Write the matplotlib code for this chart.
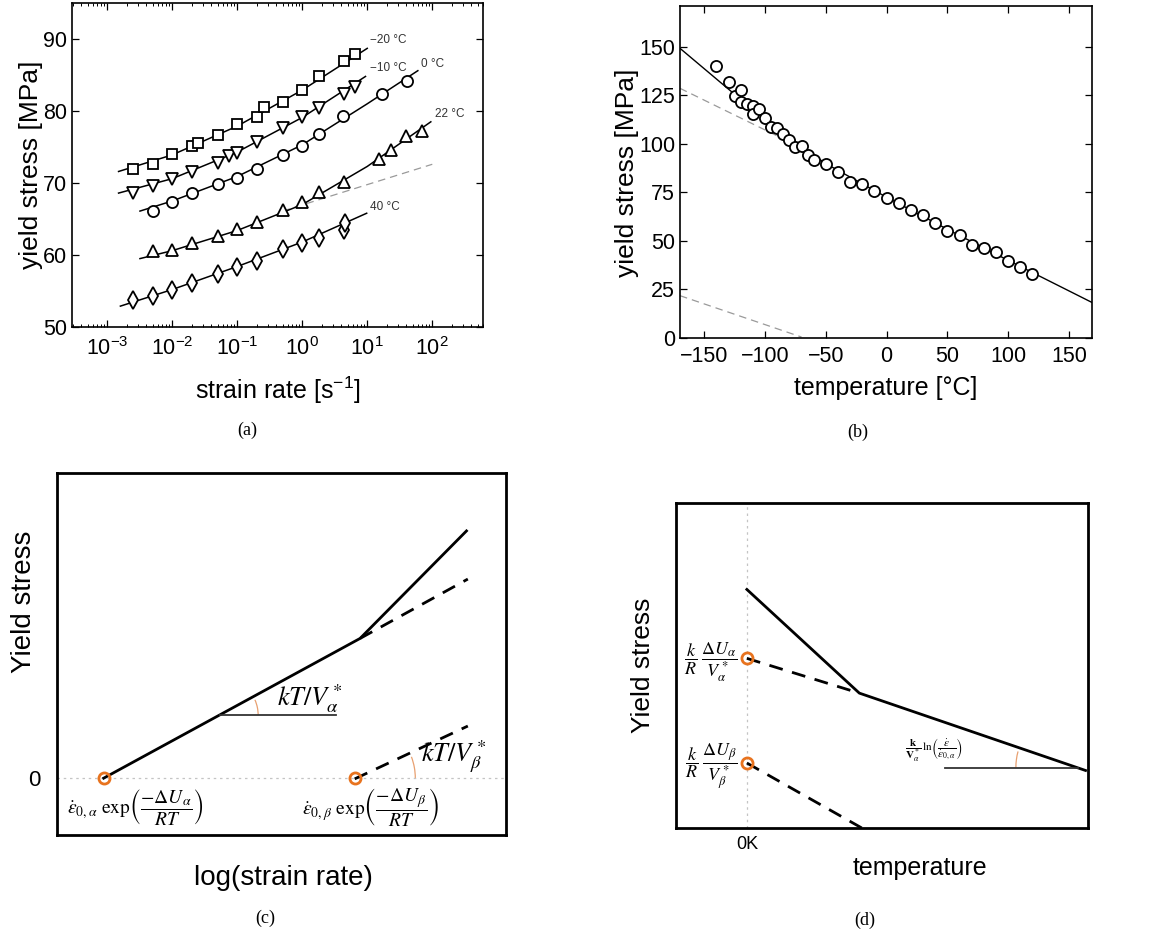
import numpy as np
import matplotlib
matplotlib.use("Agg")
import matplotlib.pyplot as plt
from matplotlib.patches import Arc
from matplotlib.ticker import FixedLocator, NullFormatter, FuncFormatter

plt.rcParams['font.family'] = ['Liberation Sans', 'DejaVu Sans']

# ---------- panel (a): yield stress vs strain rate, five temperatures ----------
rate_m20 = [2.5e-3, 5e-3, 1e-2, 2e-2, 2.5e-2, 5e-2, 0.1, 0.2, 0.26, 0.5, 1.0, 1.8, 4.4, 6.4]
ys_m20 = [71.9, 72.6, 74.0, 75.1, 75.5, 76.7, 78.2, 79.1, 80.5, 81.3, 82.9, 84.9, 87.0, 87.9]
fit_m20_x = [1.5e-3, 1e-2, 0.1, 1.0, 10.0]
fit_m20_y = [71.6, 73.9, 77.9, 82.9, 88.7]

rate_m10 = [2.5e-3, 5e-3, 1e-2, 2e-2, 5e-2, 0.075, 0.1, 0.2, 0.5, 1.0, 1.8, 4.4, 6.4]
ys_m10 = [68.6, 69.6, 70.5, 71.5, 72.8, 73.8, 74.2, 75.7, 77.7, 79.1, 80.4, 82.3, 83.3]
fit_m10_x = [1.5e-3, 1e-2, 0.1, 1.0, 9.4]
fit_m10_y = [68.6, 70.6, 74.3, 79.1, 84.8]

rate_0 = [5e-3, 1e-2, 2e-2, 5e-2, 0.1, 0.2, 0.5, 1.0, 1.8, 4.3, 17, 41]
ys_0 = [66.1, 67.4, 68.6, 69.8, 70.7, 72.0, 73.9, 75.2, 76.8, 79.3, 82.3, 84.2]
fit_0_x = [3.2e-3, 1e-2, 0.1, 1.0, 10.0, 60.0]
fit_0_y = [66.1, 67.5, 70.9, 75.3, 81.0, 85.6]

rate_22 = [5e-3, 1e-2, 2e-2, 5e-2, 0.1, 0.2, 0.5, 1.0, 1.8, 4.4, 15, 23.5, 40, 70]
ys_22 = [60.5, 60.7, 61.6, 62.7, 63.6, 64.6, 66.2, 67.3, 68.7, 70.2, 73.4, 74.6, 76.5, 77.2]
fit_22_x = [3.2e-3, 1e-2, 0.1, 1.0, 10.0, 95.0]
fit_22_y = [59.5, 60.6, 63.4, 67.0, 72.3, 78.5]
asym_22_x = [0.5, 100.0]
asym_22_y = [66.1, 72.6]

rate_40 = [2.5e-3, 5e-3, 1e-2, 2e-2, 5e-2, 0.1, 0.2, 0.5, 1.0, 1.8, 4.4, 4.5]
ys_40 = [53.8, 54.3, 55.2, 56.1, 57.3, 58.4, 59.2, 60.8, 61.7, 62.4, 63.5, 64.4]
fit_40_x = [1.6e-3, 1e-2, 0.1, 1.0, 9.8]
fit_40_y = [52.9, 55.2, 58.4, 61.8, 65.8]

temp_labels = ['\u221220 \u00b0C', '\u221210 \u00b0C', '0 \u00b0C', '22 \u00b0C', '40 \u00b0C']
decades_a = [-3, -2, -1, 0, 1, 2]

# ---------- panel (b): yield stress vs temperature ----------
temp_b = [-140, -130, -125, -120, -120, -115, -110, -110, -105, -100, -95, -90, -85,
          -80, -75, -70, -65, -60, -50, -40, -30, -20, -10, 0, 10, 20, 30, 40, 50,
          60, 70, 80, 90, 100, 110, 120]
ys_b = [140.2, 132.0, 124.8, 127.7, 121.7, 120.5, 119.5, 115.2, 117.8, 113.1, 108.7,
        108.3, 105.1, 102.0, 98.6, 98.9, 94.1, 91.7, 89.5, 85.4, 80.6, 79.2, 75.6,
        72.3, 69.3, 65.7, 63.4, 59.1, 55.2, 53.1, 48.0, 46.6, 44.2, 39.9, 36.5, 33.1]
fit_b_x = [-170, -125, -100, -75, -50, 0, 50, 100, 169]
fit_b_y = [149.2, 125.5, 113.0, 100.5, 89.8, 72.5, 56.0, 40.0, 18.3]
alpha_b_x = [-170, -75]
alpha_b_y = [128.6, 99.5]
beta_b_x = [-170, -70]
beta_b_y = [21.8, 0.5]

# ---------- panel (c): schematic, axes-fraction units ----------
c_zero = 0.157
c_solid_x = [0.104, 0.675, 0.912]
c_solid_y = [0.157, 0.543, 0.840]
c_adash_x = [0.675, 0.915]
c_adash_y = [0.543, 0.707]
c_beta_x = [0.663, 0.915]
c_beta_y = [0.155, 0.301]
c_ref_x = [0.363, 0.621]
c_ref_y = [0.331, 0.331]
c_pts_x = [0.104, 0.663]

# ---------- panel (d): schematic, axes-fraction units ----------
d_zero = 0.172
d_solid_x = [0.172, 0.445, 0.994]
d_solid_y = [0.734, 0.415, 0.177]
d_adash_x = [0.172, 0.445]
d_adash_y = [0.522, 0.415]
d_bdash_x = [0.172, 0.451]
d_bdash_y = [0.200, 0.0]
d_ref_x = [0.653, 0.975]
d_ref_y = [0.186, 0.186]
d_pts_y = [0.522, 0.200]

W, H = 1150, 932
fig = plt.figure(figsize=(W / 100, H / 100), dpi=100)


def add_axes(l, r, t, b):
    return fig.add_axes([l / W, 1 - b / H, (r - l) / W, (b - t) / H])


def ftext(x, y, s, **kw):
    fig.text(x / W, 1 - y / H, s, ha='center', va='center', **kw)


orange = '#E8731E'

# panel (a)
axa = add_axes(72, 483, 3, 327)
groups = [
    (rate_m20, ys_m20, fit_m20_x, fit_m20_y, 's', 7),
    (rate_m10, ys_m10, fit_m10_x, fit_m10_y, 'v', 8),
    (rate_0, ys_0, fit_0_x, fit_0_y, 'o', 8),
    (rate_22, ys_22, fit_22_x, fit_22_y, '^', 8),
    (rate_40, ys_40, fit_40_x, fit_40_y, 'd', 9),
]
axa.plot(asym_22_x, asym_22_y, color='#9a9a9a', lw=0.9, dashes=(6, 4))
for rx, ry, fx, fy, mk, ms in groups:
    axa.plot(fx, fy, color='k', lw=1.1)
    axa.plot(rx, ry, mk, ms=ms, mfc='white', mec='k', mew=1.3, ls='none')
lab_pos = [(11, 89.9), (11, 86.0), (68, 86.5), (110, 79.6), (11, 66.7)]
for (lx, ly), t in zip(lab_pos, temp_labels):
    axa.text(lx, ly, t, fontsize=8.5, color='#333333', ha='left', va='center')
axa.set_xscale('log')
xlo, xhi = 10 ** -3.54, 10 ** 2.78
axa.set_xlim(xlo, xhi)
axa.set_ylim(50, 95)
axa.set_yticks([50, 60, 70, 80, 90])
minors = [m * 10.0 ** d for d in range(-4, 3) for m in range(2, 10)]
axa.xaxis.set_major_locator(FixedLocator([10.0 ** d for d in decades_a]))
axa.xaxis.set_minor_locator(FixedLocator([v for v in minors if xlo < v < xhi]))
axa.xaxis.set_minor_formatter(NullFormatter())
axa.xaxis.set_major_formatter(FuncFormatter(lambda v, p: r'$\mathregular{10^{%d}}$' % round(np.log10(v))))

# panel (b)
axb = add_axes(680, 1092, 6, 338)
axb.plot(fit_b_x, fit_b_y, color='k', lw=1.0)
axb.plot(alpha_b_x, alpha_b_y, color='#9a9a9a', lw=0.9, dashes=(6, 4))
axb.plot(beta_b_x, beta_b_y, color='#9a9a9a', lw=0.9, dashes=(6, 4))
axb.plot(temp_b, ys_b, 'o', ms=8, mfc='white', mec='k', mew=1.3, ls='none')
axb.set_xlim(-170, 169)
axb.set_ylim(0, 171)
axb.set_xticks([-150, -100, -50, 0, 50, 100, 150])
axb.set_yticks([0, 25, 50, 75, 100, 125, 150])
axb.xaxis.set_major_formatter(FuncFormatter(lambda v, p: ('%d' % v).replace('-', '\u2212')))

for ax in (axa, axb):
    ax.tick_params(which='both', direction='in', top=True, right=True, labelsize=15.5)
    ax.tick_params(which='major', length=5, width=0.9)
    ax.tick_params(which='minor', length=2.5, width=0.7)
    for s in ax.spines.values():
        s.set_linewidth(1.2)
axa.tick_params(axis='x', pad=7)
axb.tick_params(axis='x', pad=6)

# panel (c)
axc = add_axes(57, 506, 473, 835)
axc.set_xlim(0, 1)
axc.set_ylim(0, 1)
axc.axhline(c_zero, color='#c4c4c4', lw=0.9, ls=(0, (2, 3)))
axc.plot(c_solid_x, c_solid_y, color='k', lw=2)
axc.plot(c_adash_x, c_adash_y, color='k', lw=2, dashes=(5, 3.5))
axc.plot(c_beta_x, c_beta_y, color='k', lw=2, dashes=(5, 3.5))
axc.plot(c_ref_x, c_ref_y, color='#333333', lw=1.3)
axc.plot(c_pts_x, [c_zero] * len(c_pts_x), 'o', ms=8, mfc='none', mec=orange, mew=2)
cw, ch = 506 - 57, 835 - 473
ang_a = np.degrees(np.arctan2((c_solid_y[1] - c_solid_y[0]) * ch, (c_solid_x[1] - c_solid_x[0]) * cw))
ang_b = np.degrees(np.arctan2((c_beta_y[1] - c_beta_y[0]) * ch, (c_beta_x[1] - c_beta_x[0]) * cw))
axc.add_patch(Arc((c_ref_x[0], c_ref_y[0]), 0.17, 0.17 * cw / ch, theta1=0, theta2=ang_a,
                  color='#E8A070', lw=0.9))
axc.add_patch(Arc((c_beta_x[0], c_zero), 0.27, 0.27 * cw / ch, theta1=0, theta2=ang_b,
                  color='#E8A070', lw=0.9))
mkw = dict(math_fontfamily='stix', ha='center', va='center', transform=axc.transAxes)
axc.text(0.563, 0.378, r'$kT/V^*_\alpha$', fontsize=19, **mkw)
axc.text(0.884, 0.216, r'$kT/V^*_\beta$', fontsize=19, **mkw)
axc.text(0.175, 0.078, r'$\dot{\varepsilon}_{0,\alpha}\ \mathrm{exp}\left(\dfrac{-\Delta U_\alpha}{RT}\right)$',
         fontsize=14, **mkw)
axc.text(0.698, 0.078, r'$\dot{\varepsilon}_{0,\beta}\ \mathrm{exp}\left(\dfrac{-\Delta U_\beta}{RT}\right)$',
         fontsize=14, **mkw)
axc.set_xticks([])
axc.set_yticks([c_zero])
axc.set_yticklabels(['0'])
axc.tick_params(length=0, labelsize=16, pad=12)

# panel (d)
axd = add_axes(676, 1088, 503, 828)
axd.set_xlim(0, 1)
axd.set_ylim(0, 1)
axd.axvline(d_zero, color='#c4c4c4', lw=0.9, ls=(0, (2, 3)))
axd.plot(d_solid_x, d_solid_y, color='k', lw=2)
axd.plot(d_adash_x, d_adash_y, color='k', lw=2, dashes=(5, 3.5))
axd.plot(d_bdash_x, d_bdash_y, color='k', lw=2, dashes=(5, 3.5))
axd.plot(d_ref_x, d_ref_y, color='#333333', lw=1.3)
axd.plot([d_zero] * len(d_pts_y), d_pts_y, 'o', ms=8, mfc='none', mec=orange, mew=2)
dw, dh = 1088 - 676, 828 - 503
ang_d = np.degrees(np.arctan2((d_solid_y[1] - d_solid_y[2]) * dh, (d_solid_x[2] - d_solid_x[1]) * dw))
axd.add_patch(Arc((d_ref_x[1], d_ref_y[1]), 0.30, 0.30 * dw / dh, theta1=180 - ang_d, theta2=180,
                  color='#E8A070', lw=0.9))
mkd = dict(math_fontfamily='stix', ha='center', va='center', transform=axd.transAxes)
axd.text(0.085, 0.51, r'$\dfrac{k}{R}\ \dfrac{\Delta U_\alpha}{V^*_\alpha}$', fontsize=13, **mkd)
axd.text(0.085, 0.19, r'$\dfrac{k}{R}\ \dfrac{\Delta U_\beta}{V^*_\beta}$', fontsize=13, **mkd)
axd.text(0.625, 0.24, r'$\dfrac{\mathbf{k}}{\mathbf{V}^*_\alpha}\,\mathrm{ln}\left(\dfrac{\dot{\varepsilon}}{\dot{\varepsilon}_{0,\alpha}}\right)$',
         fontsize=8, **mkd)
axd.set_yticks([])
axd.set_xticks([d_zero])
axd.set_xticklabels(['0K'])
axd.tick_params(length=0, labelsize=13, pad=6)

for ax in (axc, axd):
    for s in ax.spines.values():
        s.set_linewidth(2)

# axis labels and panel letters
ftext(31, 165, 'yield stress [MPa]', fontsize=19, rotation=90)
ftext(278, 390, r'strain rate [s$^{\mathregular{-1}}$]', fontsize=18)
ftext(627, 173, 'yield stress [MPa]', fontsize=19, rotation=90)
ftext(886, 388, 'temperature [\u00b0C]', fontsize=18)
ftext(24, 602, 'Yield stress', fontsize=20, rotation=90)
ftext(283, 878, 'log(strain rate)', fontsize=20)
ftext(643, 665, 'Yield stress', fontsize=19, rotation=90)
ftext(920, 868, 'temperature', fontsize=18)
serif = ['Liberation Serif', 'DejaVu Serif']
ftext(247, 430, '(a)', fontsize=13, family=serif)
ftext(858, 432, '(b)', fontsize=13, family=serif)
ftext(265, 918, '(c)', fontsize=13, family=serif)
ftext(865, 920, '(d)', fontsize=13, family=serif)

fig.savefig('out.png', dpi=100)
